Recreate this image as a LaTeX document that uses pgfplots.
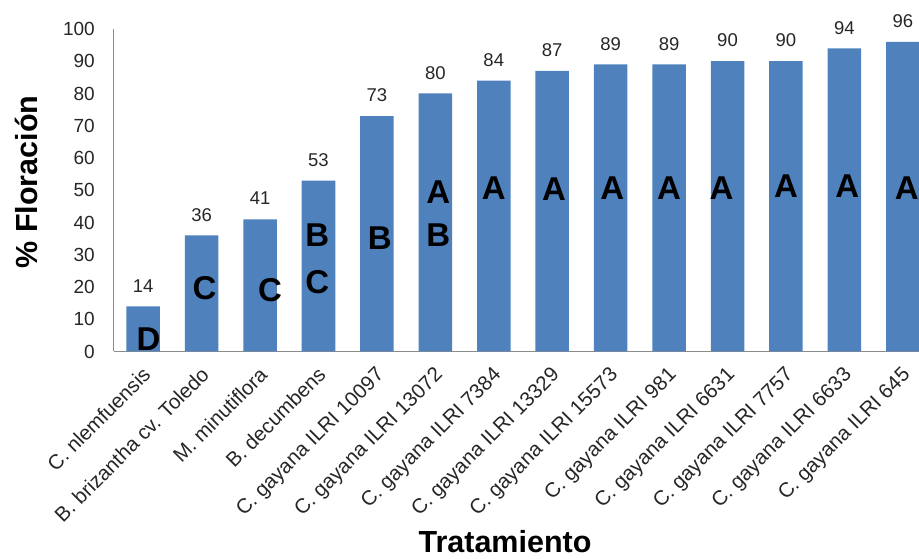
\documentclass[border=0pt]{standalone}
\usepackage{pgfplots}
\pgfplotsset{compat=1.18}
\usepackage{fontspec}
\setmainfont{Liberation Sans}
\definecolor{barblue}{RGB}{79,129,189}
\definecolor{axgray}{RGB}{140,140,140}
\begin{document}
\begin{tikzpicture}
\begin{axis}[
  scale only axis, width=818pt, height=322.5pt,
  xmin=-0.5, xmax=13.5, ymin=0, ymax=100,
  axis x line=bottom, axis y line=left,
  axis line style={axgray, line width=1pt, -},
  ytick={0,10,...,100},
  xtick={0,...,13},
  xticklabels={{C. nlemfuensis},{B. brizantha cv. Toledo},{M. minutiflora},{B. decumbens},{C. gayana ILRI 10097},{C. gayana ILRI 13072},{C. gayana ILRI 7384},{C. gayana ILRI 13329},{C. gayana ILRI 15573},{C. gayana ILRI 981},{C. gayana ILRI 6631},{C. gayana ILRI 7757},{C. gayana ILRI 6633},{C. gayana ILRI 645}},
  major tick length=0pt,
  tick style={draw=none},
  /pgf/number format/assume math mode=true,
  yticklabel style={font=\fontsize{19}{22}\selectfont, text=black!85, anchor=east, inner sep=0pt, xshift=-19pt},
  xticklabel style={font=\fontsize{20.5}{24}\selectfont, text=black!85, xshift=-2pt, yshift=-14pt, rotate=45, anchor=north east, inner sep=0pt},
  xlabel={Tratamiento}, ylabel={\% Floración},
  every axis x label/.style={at={(axis description cs:0.478,-0.6248)}, anchor=base, font=\bfseries\fontsize{30.5}{34}\selectfont},
  every axis y label/.style={at={(axis description cs:-0.0941,0.5256)}, rotate=90, anchor=base, font=\bfseries\fontsize{30.5}{34}\selectfont},
  clip=false,
]
\coordinate (sw) at (rel axis cs:0,0);
\addplot[ybar, bar width=33.5pt, fill=barblue, draw=none,
  nodes near coords,
  every node near coord/.style={anchor=base, inner sep=0pt, yshift=14.3pt, font=\fontsize{18.5}{22}\selectfont, text=black!85}]
  coordinates {(0,14) (1,36) (2,41) (3,53) (4,73) (5,80) (6,84) (7,87) (8,89) (9,89) (10,90) (11,90) (12,94) (13,96)};
\addplot[draw=none, mark=none, nodes near coords, point meta=explicit symbolic,
  every node near coord/.style={anchor=center, inner sep=0pt, font=\bfseries\fontsize{33}{36}\selectfont, text=black}]
  table[meta=lab] {
x y lab
0.09 3.7 D
1.05 19.7 C
2.17 19.0 C
2.98 36.0 B
2.98 21.4 C
4.05 35.0 B
5.05 49.5 A
5.05 36.0 B
6.0 50.7 A
7.03 50.3 A
8.03 50.8 A
9.0 50.8 A
9.9 50.8 A
11.0 51.3 A
12.05 51.3 A
13.07 50.5 A
};
\end{axis}
\pgfresetboundingbox
\path (sw) ++(-114pt,-207.5pt) rectangle ++(919pt,559pt);
\end{tikzpicture}
\end{document}
